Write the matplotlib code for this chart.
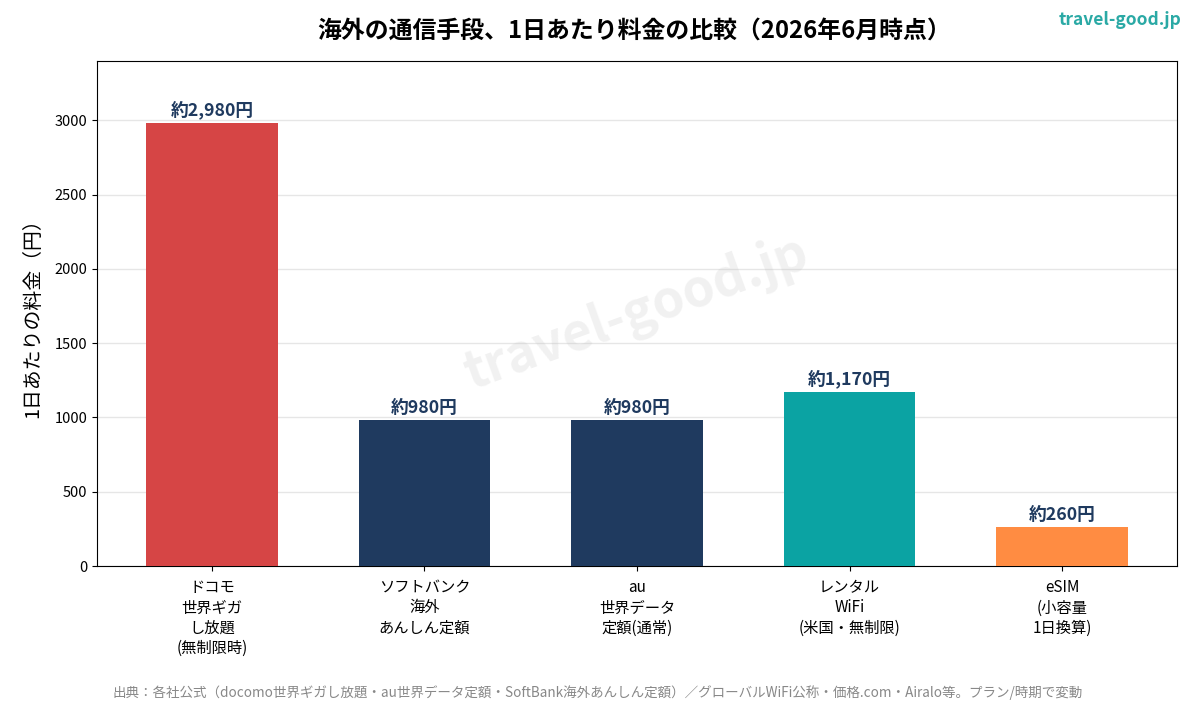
import matplotlib
matplotlib.use("Agg")
import matplotlib.pyplot as plt

plt.rcParams["font.family"] = ["Noto Sans CJK JP", "DejaVu Sans"]

categories = [
    "ドコモ\n世界ギガ\nし放題\n(無制限時)",
    "ソフトバンク\n海外\nあんしん定額",
    "au\n世界データ\n定額(通常)",
    "レンタル\nWiFi\n(米国・無制限)",
    "eSIM\n(小容量\n1日換算)",
]
prices = [2980, 980, 980, 1170, 260]
value_labels = ["約2,980円", "約980円", "約980円", "約1,170円", "約260円"]
bar_colors = ["#D64545", "#1F3A5F", "#1F3A5F", "#0BA3A3", "#FF8C42"]

fig = plt.figure(figsize=(11.96, 7.02), dpi=100)
ax = fig.add_axes([0.0811, 0.1937, 0.903, 0.7194])

x = range(len(categories))
bars = ax.bar(x, prices, width=0.62, color=bar_colors, zorder=3)
for b, lab in zip(bars, value_labels):
    ax.text(b.get_x() + b.get_width() / 2, b.get_height() + 25, lab,
            ha="center", va="bottom", fontsize=12.8, fontweight="bold",
            color="#1F3A5F", zorder=4)

ax.set_xticks(list(x))
ax.set_xticklabels(categories, fontsize=11, linespacing=1.25)
ax.tick_params(axis="x", pad=6)
ax.set_ylim(0, 3400)
ax.set_yticks([0, 500, 1000, 1500, 2000, 2500, 3000])
ax.tick_params(axis="y", labelsize=10.5)
ax.set_ylabel("1日あたりの料金（円）", fontsize=14.3, labelpad=8)
ax.yaxis.grid(True, color="#e6e6e6", linewidth=1, zorder=0)
ax.set_axisbelow(True)

ax.text(0.5, 0.5, "travel-good.jp", transform=ax.transAxes, rotation=20,
        ha="center", va="center", fontsize=37, fontweight="bold",
        color="#bbbbbb", alpha=0.2, zorder=1)

fig.text(0.53, 0.957, "海外の通信手段、1日あたり料金の比較（2026年6月時点）",
         ha="center", va="center", fontsize=17.2, fontweight="bold")
fig.text(0.988, 0.972, "travel-good.jp", ha="right", va="center",
         fontsize=12.5, fontweight="bold", color="#2AA9A5")
fig.text(0.5, 0.014,
         "出典：各社公式（docomo世界ギガし放題・au世界データ定額・SoftBank海外あんしん定額）／グローバルWiFi公称・価格.com・Airalo等。プラン/時期で変動",
         ha="center", va="center", fontsize=9.75, color="#888888")

fig.savefig("out.png", dpi=100)
